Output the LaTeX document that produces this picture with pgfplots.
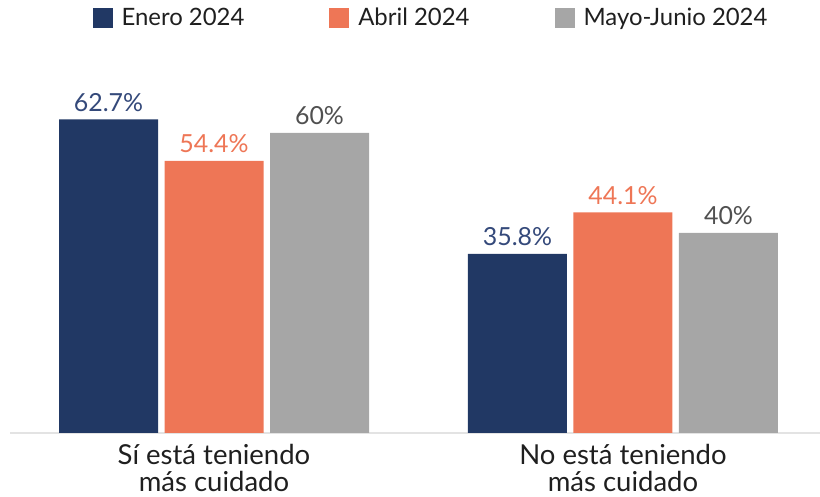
\documentclass[border=0pt]{standalone}
\usepackage{pgfplots}
\pgfplotsset{compat=1.18}
\usepackage{fontspec}
\setmainfont{Lato}

\definecolor{navy}{HTML}{213864}
\definecolor{navytxt}{HTML}{34497A}
\definecolor{naranja}{HTML}{EE7656}
\definecolor{gris}{HTML}{A6A6A6}
\definecolor{gristxt}{HTML}{505050}
\definecolor{eje}{HTML}{E3E3E3}

\begin{document}
\begin{tikzpicture}
\begin{axis}[
    scale only axis,
    width=405bp,
    height=200bp,
    ymin=0, ymax=80,
    xmin=-0.4988, xmax=1.4817,
    ybar=3.25bp,
    bar width=49.5bp,
    axis x line=bottom,
    axis y line=none,
    x axis line style={eje, line width=1bp, -},
    major tick length=0pt,
    xtick={0,1},
    xticklabels={{Sí está teniendo\\más cuidado},{No está teniendo\\más cuidado}},
    xticklabel style={align=center, font=\fontsize{13.8}{13.5}\selectfont, text=black!88, yshift=-2bp},
    nodes near coords={\pgfmathprintnumber[fixed,precision=1,assume math mode=true]{\pgfplotspointmeta}\%},
    nodes near coords style={font=\fontsize{12.5}{14}\selectfont, anchor=base, yshift=4bp, inner sep=0pt},
    legend columns=3,
    legend style={draw=none, fill=none, at={(0.521,1.0375)}, anchor=center,
        font=\fontsize{12}{14}\selectfont, text=black!88,
        /tikz/every even column/.append style={column sep=40.5bp},
        /tikz/every odd column/.append style={column sep=2.5bp}},
    legend image code/.code={\fill[#1] (0bp,-5bp) rectangle (10bp,5bp);},
]

% Enero 2024
\addplot[fill=navy, draw=none, nodes near coords style={text=navytxt}]
coordinates {(0,62.7) (1,35.8)};
\addlegendentry{Enero 2024}

% Abril 2024
\addplot[fill=naranja, draw=none, nodes near coords style={text=naranja}]
coordinates {(0,54.4) (1,44.1)};
\addlegendentry{Abril 2024}

% Mayo-Junio 2024
\addplot[fill=gris, draw=none, nodes near coords style={text=gristxt}]
coordinates {(0,60) (1,40)};
\addlegendentry{Mayo-Junio 2024}

\end{axis}
\pgfresetboundingbox
\useasboundingbox ([shift={(-5bp,-32bp)}]current axis.south west) rectangle ([shift={(0bp,16.5bp)}]current axis.north east);
\end{tikzpicture}
\end{document}
